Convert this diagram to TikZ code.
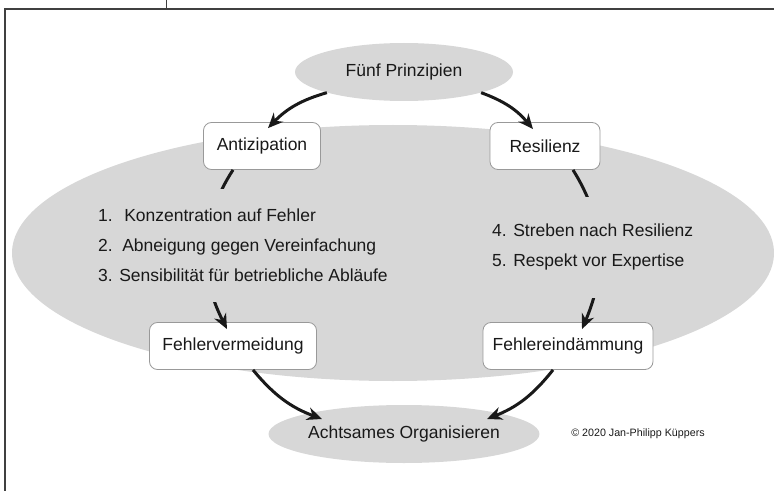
\documentclass[tikz,border=0pt]{standalone}
\usepackage{fontspec}
\setmainfont{Liberation Sans}
\usetikzlibrary{arrows.meta,shapes.geometric}
\definecolor{ovalgray}{RGB}{215,215,215}
\definecolor{inkgray}{RGB}{25,25,25}

\begin{document}
\begin{tikzpicture}[x=1pt,y=1pt,>=Stealth,
    box/.style={draw=gray!80,fill=white,rounded corners=8pt,line width=0.8pt,
      minimum height=47pt,font=\fontsize{17.5}{21}\selectfont,text=inkgray},
    oval/.style={ellipse,fill=ovalgray,inner sep=0pt,minimum height=58pt,
      font=\fontsize{17.5}{21}\selectfont,text=inkgray},
    flowarrow/.style={line width=3pt,draw=inkgray,-{Stealth[length=15pt,width=13pt]}},
    pointlist/.style={align=left,fill=ovalgray,inner xsep=0pt,anchor=north west,
      font=\fontsize{17.5}{30}\selectfont,text=inkgray}]
        \useasboundingbox (0,0) rectangle (774,491);
        % page frame
        \draw [line width=1.2pt,draw=black!75] (4,482) -- (774,482);
        \draw [line width=1.2pt,draw=black!75] (5,482) -- (5,0);
        \draw [line width=0.8pt,draw=black!75] (166,491) -- (166,482);
        \fill [ovalgray] (393,238) ellipse [x radius=381pt, y radius=128pt];
        \node [oval,minimum width=218pt] (prin) at (404,419) {Fünf Prinzipien};
        \node [box,minimum width=117pt] (anti) at (262,345) {Antizipation};
        \node [box,minimum width=110pt] (resi) at (545,345) {Resilienz};
        \node [box,minimum width=167pt] (verm) at (233,145) {Fehlervermeidung};
        \node [box,minimum width=170pt] (eind) at (568,145) {Fehlereindämmung};
        \node [oval,minimum width=262pt] (acht) at (404,57) {Achtsames Organisieren};
        % arcs, partly hidden by the lists
        \draw [flowarrow] ([xshift=-29pt]anti.south) to [out=-123,in=117] ([xshift=-6pt,yshift=-7pt]verm.north);
        \draw [flowarrow] ([xshift=28pt]resi.south) to [out=-58,in=67] ([xshift=14pt,yshift=-7pt]eind.north);
        \node [pointlist,inner ysep=20pt] (antilist) at (98,302)
          {1.\hspace{5pt} Konzentration auf Fehler\\2.\hspace{3pt} Abneigung gegen Vereinfachung\\3. Sensibilität für betriebliche Abläufe};
        \node [pointlist,inner ysep=27pt] (resilist) at (492,294)
          {4. Streben nach Resilienz\\5. Respekt vor Expertise};
        \draw [flowarrow] (prin.195) to [bend right=15] ([xshift=6pt,yshift=-6pt]anti.north);
        \draw [flowarrow] (prin.-15) to [bend left=15] ([xshift=-12pt,yshift=-7pt]resi.north);
        \draw [flowarrow] ([xshift=20pt]verm.south) to [bend right=15] ([xshift=-82pt,yshift=15pt]acht.center);
        \draw [flowarrow] ([xshift=-15pt]eind.south) to [bend left=15] ([xshift=83pt,yshift=15pt]acht.center);
        \node [font=\fontsize{10.7}{13}\selectfont,text=inkgray] (copy) at (638,57) {© 2020 Jan-Philipp Küppers};
\end{tikzpicture}
\end{document}
